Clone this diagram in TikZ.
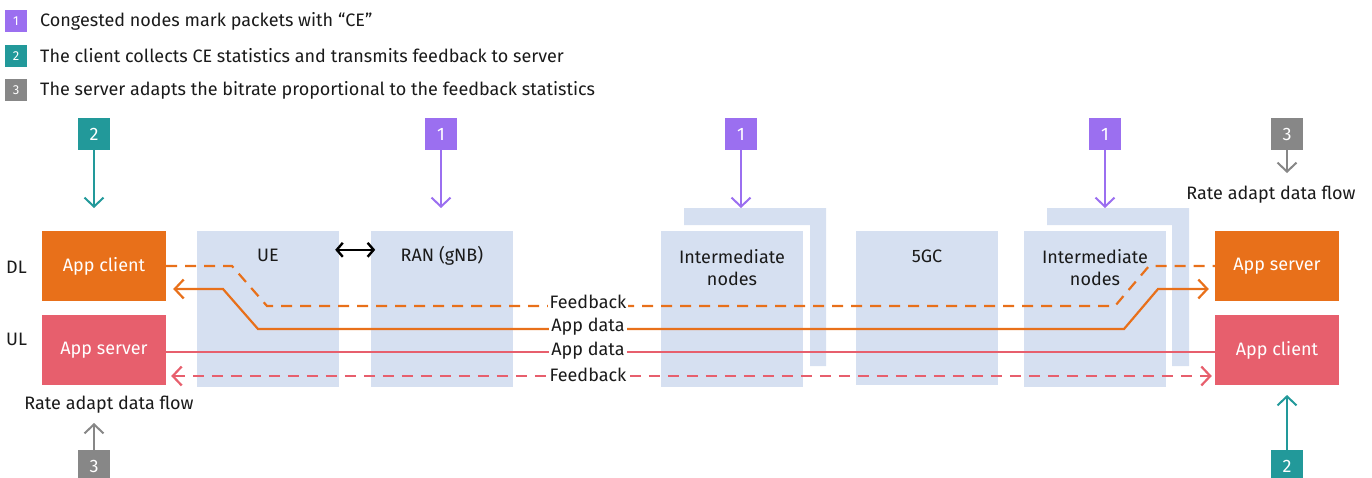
\documentclass[tikz,border=0pt]{standalone}
\usepackage{fontspec}
\setmainfont{Fira Sans}
\usetikzlibrary{arrows.meta}
\definecolor{cpurple}{HTML}{9B6FF0}
\definecolor{cteal}{HTML}{22999A}
\definecolor{cgrey}{HTML}{878787}
\definecolor{corange}{HTML}{E8701A}
\definecolor{cred}{HTML}{E75F6D}
\definecolor{cblue}{HTML}{D6E0F1}
\definecolor{ctext}{HTML}{1A1A1A}
\begin{document}
\begin{tikzpicture}[x=1pt,y=-1pt,
  every node/.style={font=\fontsize{18}{22}\selectfont, text=ctext},
  badge/.style={fill=#1, minimum size=32pt, inner sep=0pt, text=white},
  smallbadge/.style={fill=#1, minimum size=22pt, inner sep=0pt, text=white, font=\fontsize{13}{15}\selectfont},
  legtext/.style={anchor=west, inner sep=0pt},
  appbox/.style={fill=#1, minimum width=124pt, minimum height=70pt, inner sep=0pt, text=white},
  netbox/.style={fill=cblue, minimum width=142pt, minimum height=156pt, inner sep=0pt},
  tip/.style={-{Straight Barb[length=9pt,width=19pt,line width=2pt]}},
  marker/.style={line width=2pt, tip},
  flow/.style={line width=2.2pt},
  fb/.style={flow, dash pattern=on 11pt off 8pt},
  lbl/.style={fill=white, inner sep=2pt}
]
\useasboundingbox (0,0) rectangle (1372,477);
\clip (0,0) rectangle (1372,477);

% legend
\node[smallbadge=cpurple] (l1) at (16,21) {1};
\node[legtext] (t1) at (40,21) {Congested nodes mark packets with “CE”};
\node[smallbadge=cteal] (l2) at (16,56) {2};
\node[legtext] (t2) at (40,56) {The client collects CE statistics and transmits feedback to server};
\node[smallbadge=cgrey] (l3) at (16,90) {3};
\node[legtext] (t3) at (40,90) {The server adapts the bitrate proportional to the feedback statistics};

% back boxes of intermediate nodes
\fill[cblue] (684,208) -- (826,208) -- (826,366) -- (810,366) -- (810,225) -- (684,225) -- cycle;
\fill[cblue] (1047,208) -- (1189,208) -- (1189,366) -- (1172,366) -- (1172,225) -- (1047,225) -- cycle;

% network boxes
\node[netbox, label={[anchor=center,yshift=-25pt]north:UE}] (ue) at (268,309) {};
\node[netbox, label={[anchor=center,yshift=-25pt]north:RAN (gNB)}] (ran) at (442,309) {};
\node[netbox, label={[anchor=center,yshift=-37pt,align=center]north:Intermediate\\nodes}] (im1) at (732,309) {};
\node[netbox, minimum height=154pt, label={[anchor=center,yshift=-25pt]north:5GC}] (core) at (927,308) {};
\node[netbox, label={[anchor=center,yshift=-37pt,align=center]north:Intermediate\\nodes}] (im2) at (1095,309) {};

% app boxes
\node[appbox=corange] (acl) at (104,266) {App client};
\node[appbox=cred] (asl) at (104,350) {App server};
\node[appbox=corange] (asr) at (1277,266) {App server};
\node[appbox=cred] (acr) at (1277,350) {App client};

\node[anchor=west, inner sep=0pt] (dl) at (6,267) {DL};
\node[anchor=west, inner sep=0pt] (ul) at (6,339) {UL};

% UE <-> RAN
\draw[line width=2.4pt, {Straight Barb[length=6pt,width=14pt]}-{Straight Barb[length=6pt,width=14pt]}] (ue.north east)++(-4,19) coordinate (da) -- ++(40,0) coordinate (db);

% flows
\draw[fb, corange] (acl.east) -- (232,266) -- (267,306) -- (1115,306) -- (1149,266) -- (asr.west);
\draw[flow, corange, {Straight Barb[length=9pt,width=19pt]}-{Straight Barb[length=9pt,width=19pt]}]
  ([xshift=7pt,yshift=-23pt]acl.east) -- (223,289) -- (258,329) -- (1124,329) -- (1158,289) -- ([xshift=-6pt,yshift=-23pt]asr.west);
\draw[flow, cred] ([yshift=-2pt]asl.east) -- ([yshift=-2pt]acr.west);
\draw[fb, cred, {Straight Barb[length=9pt,width=19pt]}-{Straight Barb[length=9pt,width=19pt]}]
  ([xshift=5pt,yshift=-26pt]asl.east) -- ([xshift=-3pt,yshift=-26pt]acr.west);

\node[lbl] (f1) at (588,302) {Feedback};
\node[lbl] (d1) at (588,327) {App data};
\node[lbl] (d2) at (588,351) {App data};
\node[lbl] (f2) at (588,375) {Feedback};

% markers top
\node[badge=cteal] (m2a) at (94,134) {2};
\coordinate (m2at) at (94,208);
\draw[marker, cteal] (m2a.south) -- (m2at);
\node[badge=cpurple] (m1a) at (441,134) {1};
\coordinate (m1at) at (441,208);
\draw[marker, cpurple] (m1a.south) -- (m1at);
\node[badge=cpurple] (m1b) at (741,134) {1};
\coordinate (m1bt) at (741,208);
\draw[marker, cpurple] (m1b.south) -- (m1bt);
\node[badge=cpurple] (m1c) at (1105,134) {1};
\coordinate (m1ct) at (1105,208);
\draw[marker, cpurple] (m1c.south) -- (m1ct);
\node[badge=cgrey] (m3a) at (1287,134) {3};
\coordinate (m3at) at (1287,173);
\draw[marker, cgrey] (m3a.south) -- (m3at);
\node (ra1) at (1271,195) {Rate adapt data flow};

% markers bottom
\node (ra2) at (109,405) {Rate adapt data flow};
\node[badge=cgrey] (m3b) at (94,466) {3};
\coordinate (m3bt) at (94,423);
\draw[marker, cgrey] (m3b.north) -- (m3bt);
\node[badge=cteal] (m2b) at (1287,466) {2};
\coordinate (m2bt) at (1287,395);
\draw[marker, cteal] (m2b.north) -- (m2bt);
\end{tikzpicture}
\end{document}
